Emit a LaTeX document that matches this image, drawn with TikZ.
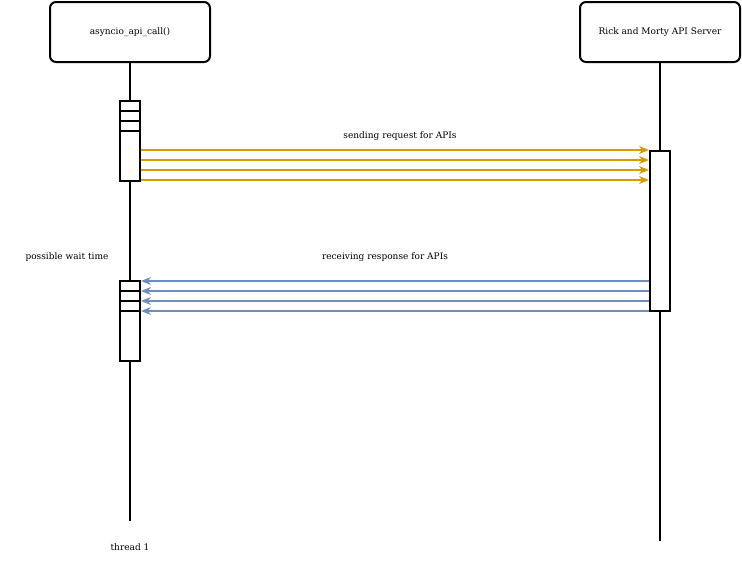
\documentclass[tikz,border=0pt]{standalone}
\usepackage{fontspec}
\setmainfont{DejaVu Serif}
\usetikzlibrary{arrows.meta}
\begin{document}
\begin{tikzpicture}[x=1pt,y=-1pt,
 hdr/.style={draw,line width=2pt,rounded corners=6pt,minimum width=160pt,minimum height=60pt,font=\fontsize{9}{11}\selectfont},
 act/.style={draw,line width=2pt,fill=white,minimum width=20pt,inner sep=0},
 lbl/.style={font=\fontsize{9}{11}\selectfont},
 req/.style={line width=2pt,draw={rgb,255:red,215;green,155;blue,0},-{Stealth[length=10pt,width=8pt]}},
 rsp/.style={line width=2pt,draw={rgb,255:red,108;green,142;blue,191},-{Stealth[length=10pt,width=8pt]}}]
\useasboundingbox (0,0) rectangle (742,562);
\node[hdr] (c) at (130,32) {asyncio\_api\_call()};
\node[hdr] (s) at (660,32) {Rick and Morty API Server};
\coordinate (ce) at (130,521);
\coordinate (se) at (660,541);
\draw[line width=2pt] (c.south) -- (ce);
\draw[line width=2pt] (s.south) -- (se);
\node[act,minimum height=80pt] (a1) at (130,141) {};
\node[act,minimum height=80pt] (a2) at (130,321) {};
\node[act,minimum height=160pt] (sv) at (660,231) {};
\foreach \y in {111,121,131} \draw[line width=2pt] (120,\y) -- (140,\y);
\foreach \y in {291,301,311} \draw[line width=2pt] (120,\y) -- (140,\y);
\foreach \y in {150,160,170,180} {
 \coordinate (p\y) at (a1.east|-0,\y); \coordinate (q\y) at (sv.west|-0,\y);
 \draw[req] (p\y) -- (q\y);}
\foreach \y in {281,291,301,311} {
 \coordinate (r\y) at (sv.west|-0,\y); \coordinate (t\y) at (a2.east|-0,\y);
 \draw[rsp] (r\y) -- (t\y);}
\node[lbl] (l1) at (400,136) {sending request for APIs};
\node[lbl] (l2) at (385,257) {receiving response for APIs};
\node[lbl] (l3) at (67,257) {possible wait time};
\node[lbl] (l4) at (130,547) {thread 1};
\end{tikzpicture}
\end{document}
